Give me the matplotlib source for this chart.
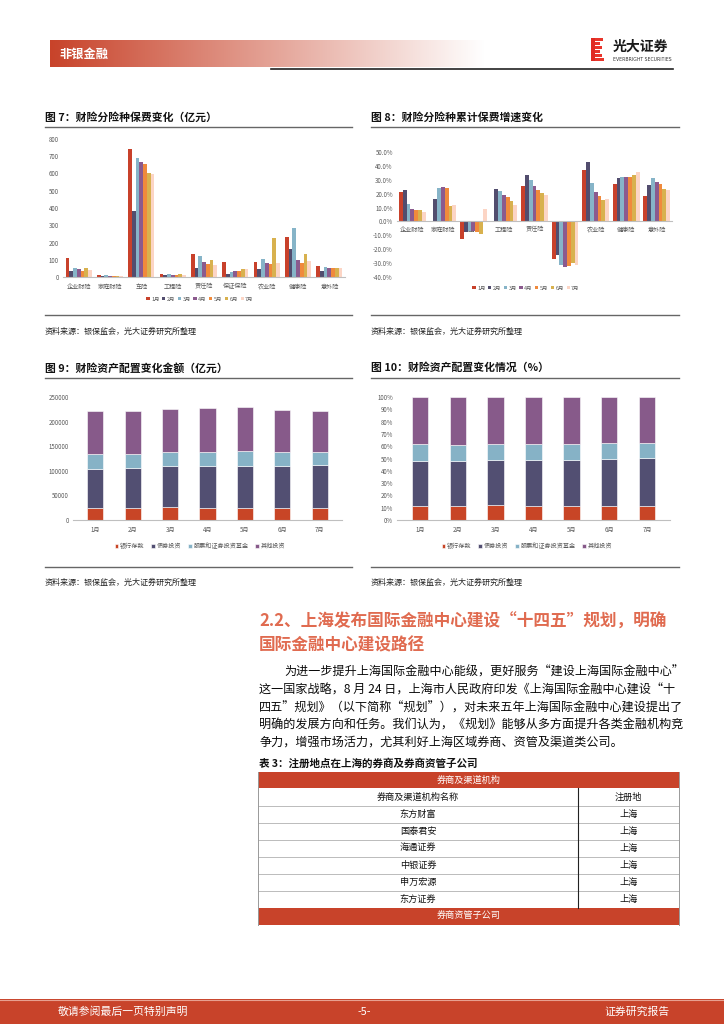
import numpy as np
import matplotlib
matplotlib.use('Agg')
import matplotlib.pyplot as plt
from matplotlib.patches import Rectangle
import matplotlib.ticker as mticker

plt.rcParams['font.family'] = ['Noto Sans CJK SC', 'DejaVu Sans']

W, H = 724, 1024

# ---------------- data ----------------
months = ['1月', '2月', '3月', '4月', '5月', '6月', '7月']
categories = ['企业财险', '家庭财险', '车险', '工程险', '责任险', '保证保险', '农业险', '健康险', '意外险']

# Fig 7: premiums by line (亿元), one list per month
prem_m1 = [110, 14, 742, 19, 133, 89, 89, 234, 66]
prem_m2 = [33, 8, 385, 10, 52, 15, 48, 160, 33]
prem_m3 = [52, 14, 690, 19, 124, 31, 102, 286, 60]
prem_m4 = [48, 8, 667, 12, 87, 37, 81, 100, 52]
prem_m5 = [33, 8, 655, 12, 77, 37, 75, 83, 50]
prem_m6 = [54, 6, 605, 19, 99, 48, 228, 135, 50]
prem_m7 = [39, 8, 599, 10, 72, 44, 81, 95, 50]

# Fig 8: cumulative premium growth (%), one list per month
growth_m1 = [21.5, 0.0, -12.8, 0.0, 25.6, -27.3, 37.2, 26.8, 18.1]
growth_m2 = [23.0, 16.0, -7.5, 23.4, 33.3, -24.2, 42.8, 31.0, 26.3]
growth_m3 = [12.3, 24.0, -6.8, 22.0, 30.2, -31.0, 28.0, 32.1, 31.0]
growth_m4 = [9.0, 24.5, -6.8, 19.0, 25.6, -33.0, 21.3, 31.9, 28.5]
growth_m5 = [8.5, 24.0, -7.5, 17.6, 23.0, -32.4, 18.1, 31.9, 27.0]
growth_m6 = [8.0, 11.4, -8.7, 15.0, 20.8, -30.2, 15.5, 33.1, 23.4]
growth_m7 = [7.0, 12.0, 9.2, 12.0, 19.3, -31.0, 16.0, 35.3, 22.7]

# Fig 9: asset allocation (亿元)
asset_names = ['银行存款', '债券投资', '股票和证券投资基金', '其他投资']
asset_deposit = [24500, 24500, 26500, 25100, 25100, 25100, 24500]
asset_bond = [80100, 81500, 82900, 84200, 84900, 84200, 86300]
asset_equity = [29900, 28500, 28500, 28500, 29900, 28500, 26500]
asset_other = [86300, 87000, 87600, 89000, 89700, 84900, 83600]

# Fig 10: asset allocation shares (%)
share_names = ['银行存款', '债券投资', '股票和证券投资基金', '其他投资']
share_deposit = [11.1, 11.4, 12.0, 11.1, 11.1, 11.4, 11.1]
share_bond = [36.7, 36.7, 36.6, 37.5, 37.3, 38.3, 39.2]
share_equity = [13.6, 13.0, 12.8, 12.8, 13.0, 12.5, 11.9]
share_other = [38.6, 38.9, 38.6, 38.6, 38.6, 37.8, 37.8]

# Table 3
table_names = ['东方财富', '国泰君安', '海通证券', '中银证券', '申万宏源', '东方证券']
table_places = ['上海', '上海', '上海', '上海', '上海', '上海']

# ---------------- style ----------------
RED = '#C8432A'
month_colors = ['#C8412B', '#524D6E', '#86B4C8', '#8B5A8E', '#F08A3C', '#D8B14E', '#FCD5C5']
asset_colors = ['#C84526', '#524F72', '#86B2C6', '#875A8A']
TICK_C = '#595959'
AX_C = '#BFBFBF'

fig = plt.figure(figsize=(W / 100, H / 100), dpi=100)

# overlay axes in pixel coordinates
ov = fig.add_axes([0, 0, 1, 1], zorder=0)
ov.set_xlim(0, W)
ov.set_ylim(H, 0)
ov.axis('off')


def px_axes(x0, y0, x1, y1):
    return fig.add_axes([x0 / W, 1 - y1 / H, (x1 - x0) / W, (y1 - y0) / H], zorder=2)


def fig_pt(x, y):
    return (x / W, 1 - y / H)


# ---------------- header ----------------
grad = np.linspace(0, 1, 256)
c0 = np.array([200, 67, 42]) / 255.0
img = np.zeros((1, 256, 3))
for i, t in enumerate(grad):
    img[0, i] = c0 * (1 - t) + np.array([1.0, 1.0, 1.0]) * t
ov.imshow(img, extent=[50, 485, 67, 40], aspect='auto', zorder=1)
ov.text(59, 54, '非银金融', color='white', fontsize=8.8, fontweight='bold', va='center', ha='left', zorder=3)
ov.plot([271, 673], [68.5, 68.5], color='#222222', lw=1.2, zorder=3)
# logo
stripe_y = [37.5, 41.5, 45.5, 49.5, 53.5, 57.5]
stripe_len = [12, 9, 11, 9, 11, 13]
for sy, sl in zip(stripe_y, stripe_len):
    ov.add_patch(Rectangle((591, sy), sl, 3.2, facecolor='#E8352B', edgecolor='none', zorder=3))
ov.add_patch(Rectangle((591, 37.5), 4, 23.2, facecolor='#E02A22', edgecolor='none', zorder=3))
ov.text(613, 47, '光大证券', fontsize=10, fontweight='bold', color='#1A1A1A', va='center', ha='left', zorder=3)
ov.text(613, 59.5, 'EVERBRIGHT SECURITIES', fontsize=3.3, color='#333333', va='center', ha='left',
        family='DejaVu Sans', zorder=3)

# ---------------- chart titles / lines / sources ----------------
def chart_frame(x0, x1, ytitle, yline, ysrcline, ysrc, title):
    ov.text(x0, ytitle, title, fontsize=7.8, fontweight='bold', color='#111111', va='center', ha='left')
    ov.plot([x0, x1], [yline, yline], color='#666666', lw=1.0)
    ov.plot([x0, x1], [ysrcline, ysrcline], color='#666666', lw=1.0)
    ov.text(x0, ysrc, '资料来源：银保监会，光大证券研究所整理', fontsize=5.8, color='#222222', va='center', ha='left')


chart_frame(45, 352, 117, 126.5, 315, 331, '图 7：财险分险种保费变化（亿元）')
chart_frame(371, 679, 117, 126.5, 315, 331, '图 8：财险分险种累计保费增速变化')
chart_frame(45, 352, 368, 377.5, 567, 582, '图 9：财险资产配置变化金额（亿元）')
chart_frame(371, 679, 368, 377.5, 567, 582, '图 10：财险资产配置变化情况（%）')


def style_axes(ax):
    for s in ['top', 'right', 'left']:
        ax.spines[s].set_visible(False)
    ax.spines['bottom'].set_color(AX_C)
    ax.spines['bottom'].set_linewidth(0.8)
    ax.tick_params(axis='both', length=0, labelsize=4.4, labelcolor=TICK_C)
    ax.tick_params(axis='y', pad=3)
    ax.tick_params(axis='x', pad=4)
    ax.patch.set_alpha(0)


def small_legend(handles, labels, cx, cy, ncol, fs=3.9, colsp=0.5, tpad=0.25):
    fig.legend(handles, labels, loc='center', bbox_to_anchor=fig_pt(cx, cy), bbox_transform=fig.transFigure,
               ncol=ncol, frameon=False, fontsize=fs, handlelength=0.6, handleheight=0.6,
               handletextpad=tpad, columnspacing=colsp, labelcolor=TICK_C)


# ---------------- Fig 7 ----------------
ax7 = px_axes(63, 139, 345, 277)
style_axes(ax7)
prem = [prem_m1, prem_m2, prem_m3, prem_m4, prem_m5, prem_m6, prem_m7]
x = np.arange(len(categories))
bw = 0.118
h7 = []
for i, vals in enumerate(prem):
    b = ax7.bar(x + (i - 3) * bw, vals, bw, color=month_colors[i], edgecolor='none')
    h7.append(b)
ax7.set_xlim(-0.5, len(categories) - 0.5)
ax7.set_ylim(0, 800)
ax7.set_yticks(np.arange(0, 801, 100))
ax7.set_xticks(x)
ax7.set_xticklabels(categories)
small_legend(h7, months, 200, 299, 7)

# ---------------- Fig 8 ----------------
ax8 = px_axes(397, 152, 672, 277)
style_axes(ax8)
ax8.set_axisbelow(True)
growth = [growth_m1, growth_m2, growth_m3, growth_m4, growth_m5, growth_m6, growth_m7]
bw8 = 0.125
h8 = []
for i, vals in enumerate(growth):
    b = ax8.bar(x + (i - 3) * bw8, vals, bw8, color=month_colors[i], edgecolor='none', zorder=2)
    h8.append(b)
ax8.set_xlim(-0.5, len(categories) - 0.5)
ax8.set_ylim(-40, 50)
ax8.set_yticks(np.arange(-40, 51, 10))
ax8.yaxis.set_major_formatter(mticker.FuncFormatter(lambda v, p: f'{v:.1f}%'))
ax8.spines['bottom'].set_position(('data', 0))
ax8.spines['bottom'].set_zorder(3)
ax8.set_xticks(x)
ax8.set_xticklabels(categories)
ax8.tick_params(axis='x', pad=3)
small_legend(h8, months, 526, 288, 7)

# ---------------- Fig 9 ----------------
ax9 = px_axes(73, 397, 342, 520)
style_axes(ax9)
xm = np.arange(len(months))
bottom = np.zeros(len(months))
h9 = []
for vals, col in zip([asset_deposit, asset_bond, asset_equity, asset_other], asset_colors):
    b = ax9.bar(xm, vals, 0.43, bottom=bottom, color=col, edgecolor='white', linewidth=0.4)
    bottom = bottom + np.array(vals)
    h9.append(b)
ax9.set_xlim(-0.6, len(months) - 0.4)
ax9.set_ylim(0, 250000)
ax9.set_yticks(np.arange(0, 250001, 50000))
ax9.yaxis.set_major_formatter(mticker.FuncFormatter(lambda v, p: f'{int(v)}'))
ax9.set_xticks(xm)
ax9.set_xticklabels(months)
small_legend(h9, asset_names, 200, 546, 4, fs=4.4, colsp=1.1, tpad=0.3)

# ---------------- Fig 10 ----------------
ax10 = px_axes(397, 397, 670, 520)
style_axes(ax10)
bottom = np.zeros(len(months))
h10 = []
for vals, col in zip([share_deposit, share_bond, share_equity, share_other], asset_colors):
    b = ax10.bar(xm, vals, 0.43, bottom=bottom, color=col, edgecolor='white', linewidth=0.4)
    bottom = bottom + np.array(vals)
    h10.append(b)
ax10.set_xlim(-0.6, len(months) - 0.4)
ax10.set_ylim(0, 100)
ax10.set_yticks(np.arange(0, 101, 10))
ax10.yaxis.set_major_formatter(mticker.FuncFormatter(lambda v, p: f'{int(v)}%'))
ax10.set_xticks(xm)
ax10.set_xticklabels(months)
small_legend(h10, share_names, 527, 546, 4, fs=4.4, colsp=1.1, tpad=0.3)

# ---------------- section text ----------------
HEAD_C = '#E06B50'
ov.text(259, 622, '2.2、上海发布国际金融中心建设“十四五”规划，明确', fontsize=12.0, fontweight='bold',
        color=HEAD_C, va='center', ha='left')
ov.text(259, 645, '国际金融中心建设路径', fontsize=12.0, fontweight='bold', color=HEAD_C, va='center', ha='left')

body_lines = [
    (284, '为进一步提升上海国际金融中心能级，更好服务“建设上海国际金融中心”'),
    (259, '这一国家战略，8 月 24 日，上海市人民政府印发《上海国际金融中心建设“十'),
    (259, '四五”规划》（以下简称“规划”），对未来五年上海国际金融中心建设提出了'),
    (259, '明确的发展方向和任务。我们认为，《规划》能够从多方面提升各类金融机构竞'),
    (259, '争力，增强市场活力，尤其利好上海区域券商、资管及渠道类公司。'),
]
body_y = [672, 690, 708, 725, 742]
for (bx, txt), by in zip(body_lines, body_y):
    ov.text(bx, by, txt, fontsize=8.7, color='#0A0A0A', va='center', ha='left')

# ---------------- table ----------------
ov.text(259, 763, '表 3：注册地点在上海的券商及券商资管子公司', fontsize=7.6, fontweight='bold',
        color='#111111', va='center', ha='left')
tx0, tx1, tdiv = 258, 679, 578
ov.add_patch(Rectangle((tx0, 772), tx1 - tx0, 16, facecolor=RED, edgecolor='none'))
ov.text((tx0 + tx1) / 2, 780, '券商及渠道机构', color='white', fontsize=6.6, va='center', ha='center')
row_edges = [788, 806, 823, 840, 857, 874, 891, 908]
ov.text((tx0 + tdiv) / 2, 797, '券商及渠道机构名称', fontsize=6.6, color='#111111', va='center', ha='center')
ov.text((tdiv + tx1) / 2, 797, '注册地', fontsize=6.6, color='#111111', va='center', ha='center')
for i, (nm, pl) in enumerate(zip(table_names, table_places)):
    yc = (row_edges[i + 1] + row_edges[i + 2]) / 2
    ov.text((tx0 + tdiv) / 2, yc, nm, fontsize=6.6, color='#111111', va='center', ha='center')
    ov.text((tdiv + tx1) / 2, yc, pl, fontsize=6.6, color='#111111', va='center', ha='center')
for ye in row_edges[1:-1]:
    ov.plot([tx0, tx1], [ye, ye], color='#BBBBBB', lw=0.7)
ov.plot([tdiv, tdiv], [788, 908], color='#222222', lw=0.8)
ov.plot([tx0, tx0], [772, 925], color='#999999', lw=0.7)
ov.plot([tx1, tx1], [772, 925], color='#999999', lw=0.7)
ov.add_patch(Rectangle((tx0, 908), tx1 - tx0, 17, facecolor=RED, edgecolor='none'))
ov.text((tx0 + tx1) / 2, 916.5, '券商资管子公司', color='white', fontsize=6.6, va='center', ha='center')

# ---------------- footer ----------------
ov.add_patch(Rectangle((0, 999), W, 25, facecolor=RED, edgecolor='none'))
ov.plot([0, W], [999.5, 999.5], color='#E8A090', lw=0.8)
ov.text(58, 1012, '敬请参阅最后一页特别声明', color='white', fontsize=7.8, va='center', ha='left')
ov.text(364, 1012, '-5-', color='white', fontsize=7.8, va='center', ha='center')
ov.text(670, 1012, '证券研究报告', color='white', fontsize=7.8, va='center', ha='right')

fig.savefig('out.png', dpi=100)
